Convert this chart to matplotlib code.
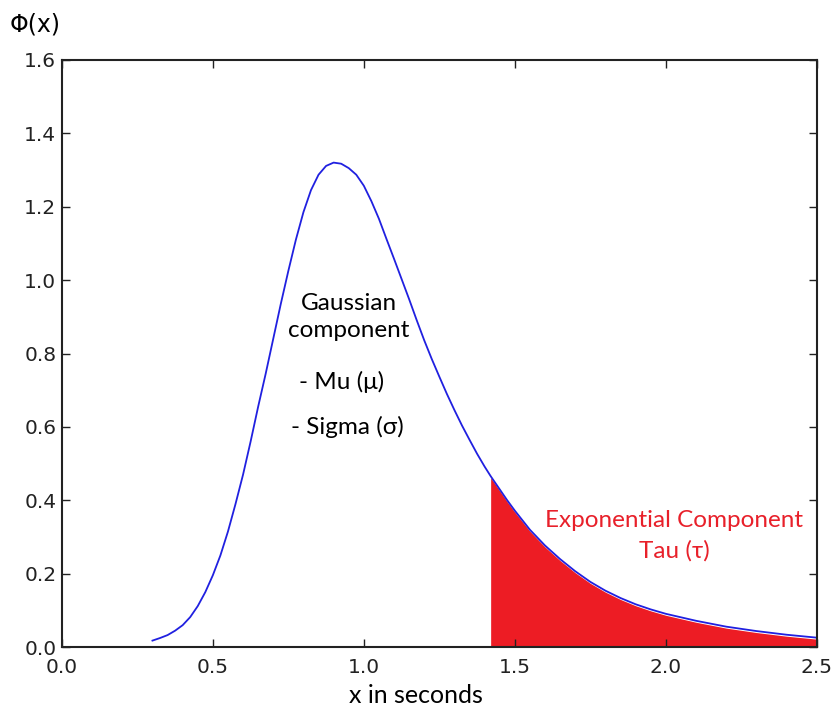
import numpy as np
import matplotlib.pyplot as plt

# curve (x in seconds, density)
x_vals = [0.300, 0.325, 0.350, 0.375, 0.400, 0.425, 0.450, 0.475, 0.500, 0.525,
          0.550, 0.575, 0.600, 0.625, 0.650, 0.675, 0.700, 0.725, 0.750, 0.775,
          0.800, 0.825, 0.850, 0.875, 0.900, 0.925, 0.950, 0.975, 1.000, 1.025,
          1.050, 1.075, 1.100, 1.125, 1.150, 1.175, 1.200, 1.225, 1.250, 1.275,
          1.300, 1.325, 1.350, 1.375, 1.400, 1.420, 1.450, 1.475, 1.500, 1.550,
          1.600, 1.650, 1.700, 1.750, 1.800, 1.850, 1.900, 1.950, 2.000, 2.100,
          2.200, 2.300, 2.400, 2.500]
y_vals = [0.018, 0.025, 0.033, 0.045, 0.060, 0.082, 0.112, 0.150, 0.196, 0.250,
          0.315, 0.390, 0.470, 0.560, 0.655, 0.745, 0.840, 0.935, 1.025, 1.110,
          1.185, 1.245, 1.287, 1.311, 1.320, 1.317, 1.305, 1.287, 1.257, 1.215,
          1.167, 1.112, 1.058, 1.003, 0.948, 0.891, 0.836, 0.785, 0.737, 0.690,
          0.646, 0.604, 0.565, 0.527, 0.492, 0.466, 0.430, 0.400, 0.372, 0.320,
          0.277, 0.240, 0.207, 0.178, 0.154, 0.134, 0.117, 0.103, 0.091, 0.072,
          0.056, 0.044, 0.034, 0.026]
fill_start = 1.42

x = np.array(x_vals)
y = np.array(y_vals)

fig = plt.figure(figsize=(8.36, 7.12), dpi=100)
ax = fig.add_axes([0.074, 0.091, 0.903, 0.825])

ax.plot(x, y, color='#2020e0', lw=1.3)
mask = x >= fill_start
ax.fill_between(x[mask], 0, y[mask] - 0.004, color='#ed1c24', lw=0)

ax.set_xlim(0, 2.5)
ax.set_ylim(0, 1.6)
ax.set_xticks(np.arange(0, 2.51, 0.5))
ax.set_yticks(np.arange(0, 1.61, 0.2))
ax.xaxis.set_major_formatter(plt.FormatStrFormatter('%.1f'))
ax.yaxis.set_major_formatter(plt.FormatStrFormatter('%.1f'))
ax.tick_params(direction='in', top=True, right=True, length=6, width=1,
               labelsize=14.5, pad=4, colors='#222222')
ax.tick_params(axis='x', pad=8)
for s in ax.spines.values():
    s.set_linewidth(1.5)
    s.set_color('#222222')

ax.set_xlabel('x in seconds', fontsize=18, family='Lato')
ax.xaxis.set_label_coords(0.469, -0.062)
fig.text(0.012, 0.965, 'Φ(x)', fontsize=17, va='center', ha='left')

txt = dict(family='Lato', fontsize=17.5)
ax.text(0.95, 0.90, 'Gaussian\ncomponent', ha='center', va='center',
        linespacing=1.35, **txt)
ax.text(0.786, 0.722, '- Mu (μ)', ha='left', va='center', **txt)
ax.text(0.76, 0.60, '- Sigma (σ)', ha='left', va='center', **txt)
ax.text(2.028, 0.346, 'Exponential Component', ha='center', va='center',
        color='#e8202a', **txt)
ax.text(2.028, 0.262, 'Tau (τ)', ha='center', va='center',
        color='#e8202a', **txt)

fig.savefig('out.png', dpi=100, facecolor='white')
